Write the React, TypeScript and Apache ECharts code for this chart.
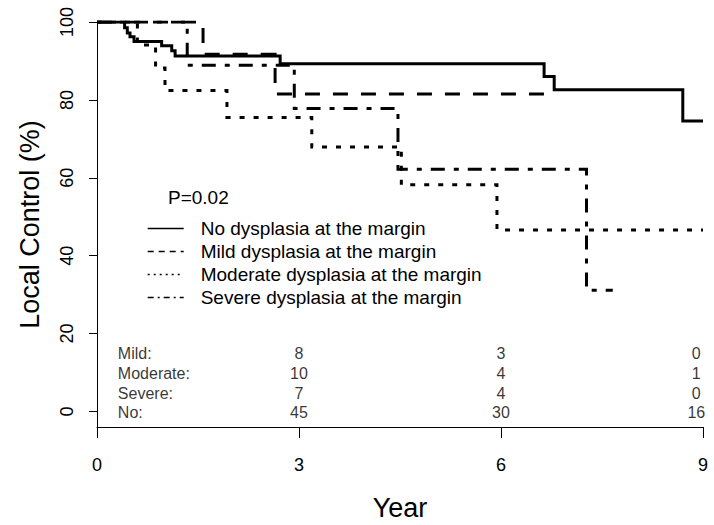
import React, { useEffect, useRef } from "react";
import * as echarts from "echarts";

// Kaplan–Meier step data (time in years, local control %)
const noTimes = [0, 0.41, 0.45, 0.49, 0.55, 0.96, 1.11, 1.16, 2.72, 6.64, 6.79, 8.7, 9.0];
const noSurv = [100, 98.5, 97.2, 96.2, 95.0, 93.9, 92.6, 91.3, 89.3, 86.0, 82.6, 74.6, 74.6];
const mildTimes = [0, 1.575, 2.645, 6.68];
const mildSurv = [100, 91.7, 81.5, 81.5];
const moderateTimes = [0, 0.6, 0.87, 1.01, 1.93, 3.19, 4.52, 5.94, 9.0];
const moderateSurv = [100, 94.1, 88.2, 82.4, 75.5, 67.9, 58.2, 46.6, 46.6];
const severeTimes = [0, 1.34, 2.93, 4.47, 7.27, 7.66];
const severeSurv = [100, 88.9, 77.8, 62.2, 31.1, 31.1];

const seriesNames = [
  "No dysplasia at the margin",
  "Mild dysplasia at the margin",
  "Moderate dysplasia at the margin",
  "Severe dysplasia at the margin",
];

// Numbers at risk
const riskLabels = ["Mild:", "Moderate:", "Severe:", "No:"];
const riskMild = [8, 3, 0];
const riskModerate = [10, 4, 1];
const riskSevere = [7, 4, 0];
const riskNo = [45, 30, 16];

const yTicks = [0, 20, 40, 60, 80, 100];
const pValueText = "P=0.02";

// layout constants (text placement in data space)
const riskRowY = [14.8, 9.7, 4.6, -0.4];
const riskColX = [3, 6, 8.9];
const riskLabelX = 0.31;

const FONT = "'Liberation Sans', Arial, Helvetica, sans-serif";

function zip(t: number[], s: number[]) {
  return t.map((x, i) => [x, s[i]]);
}

export default function App() {
  const ref = useRef<HTMLDivElement>(null);
  useEffect(() => {
    if (!ref.current) return;
    const chart = echarts.init(ref.current, undefined, { renderer: "svg" });
    const lineBase = (name: string, t: number[], s: number[], type: any) => ({
      name,
      type: "line",
      step: "end",
      symbol: "none",
      silent: true,
      data: zip(t, s),
      lineStyle: { color: "#000", width: 3, type, cap: "butt", join: "miter" },
      itemStyle: { color: "#000" },
      z: 3,
    });
    const riskRows = [riskMild, riskModerate, riskSevere, riskNo];
    const riskData: any[] = [];
    riskRows.forEach((row, r) => {
      row.forEach((v, c) => {
        riskData.push({ value: [riskColX[c], riskRowY[r]], name: String(v) });
      });
    });
    const labelData = riskLabels.map((l, r) => ({ value: [riskLabelX, riskRowY[r]], name: l }));

    chart.setOption({
      animation: false,
      backgroundColor: "#fff",
      textStyle: { fontFamily: FONT },
      title: {
        text: pValueText,
        left: 168,
        top: 188,
        padding: 0,
        textStyle: { fontSize: 19, fontWeight: "normal", color: "#000", fontFamily: FONT },
      },
      legend: {
        orient: "vertical",
        left: 147,
        top: 219,
        itemWidth: 36,
        itemHeight: 14,
        itemGap: 4,
        selectedMode: false,
        padding: 0,
        textStyle: { fontSize: 19, color: "#000", fontFamily: FONT, padding: [0, 0, 0, 12] },
        lineStyle: { width: 1.4 },
        itemStyle: { opacity: 0 },
        data: [
          { name: seriesNames[0], lineStyle: { type: "solid" } },
          { name: seriesNames[1], lineStyle: { type: [6, 5] } },
          { name: seriesNames[2], lineStyle: { type: [2, 4] } },
          { name: seriesNames[3], lineStyle: { type: [6, 4, 2, 4] } },
        ],
      },
      grid: { left: 97, right: 11, top: 22, bottom: 98, containLabel: false, outerBoundsMode: "none" },
      xAxis: {
        type: "value",
        min: 0,
        max: 9,
        interval: 3,
        axisLine: { show: true, onZero: false, lineStyle: { color: "#000", width: 1 } },
        axisTick: { show: true, length: 11, lineStyle: { color: "#000", width: 1 } },
        axisLabel: { fontSize: 18, color: "#000", margin: 29, fontFamily: FONT },
        splitLine: { show: false },
        name: "Year",
        nameLocation: "middle",
        nameGap: 67,
        nameTextStyle: { fontSize: 27, color: "#000", fontFamily: FONT },
      },
      yAxis: {
        type: "value",
        min: -4,
        max: 100,
        axisLine: { show: true, onZero: false, lineStyle: { color: "#000", width: 1 } },
        axisTick: { show: true, length: 8, customValues: yTicks, lineStyle: { color: "#000", width: 1 } },
        axisLabel: { show: true, customValues: yTicks, rotate: 90, margin: 21, fontSize: 18, color: "#000", fontFamily: FONT },
        splitLine: { show: false },
        name: "Local Control (%)",
        nameLocation: "middle",
        nameGap: 54,
        nameTextStyle: { fontSize: 27, color: "#000", fontFamily: FONT },
      },
      series: [
        lineBase(seriesNames[0], noTimes, noSurv, "solid"),
        lineBase(seriesNames[1], mildTimes, mildSurv, [15, 13]),
        lineBase(seriesNames[2], moderateTimes, moderateSurv, [5, 9]),
        lineBase(seriesNames[3], severeTimes, severeSurv, [14, 9, 5, 9]),
        {
          type: "scatter",
          symbolSize: 1,
          silent: true,
          itemStyle: { color: "rgba(0,0,0,0)" },
          data: riskData,
          label: { show: true, position: "inside", formatter: "{b}", fontSize: 16, color: "#000", fontFamily: FONT },
        },
        {
          type: "scatter",
          symbolSize: 1,
          silent: true,
          itemStyle: { color: "rgba(0,0,0,0)" },
          data: labelData,
          label: { show: true, position: "inside", align: "left", formatter: "{b}", fontSize: 16, color: "#000", fontFamily: FONT },
        },
      ],
    });
    return () => chart.dispose();
  }, []);
  return (
    <div
      ref={ref}
      style={{ position: "fixed", left: 0, top: 0, width: 714, height: 525, background: "#fff" }}
    />
  );
}
